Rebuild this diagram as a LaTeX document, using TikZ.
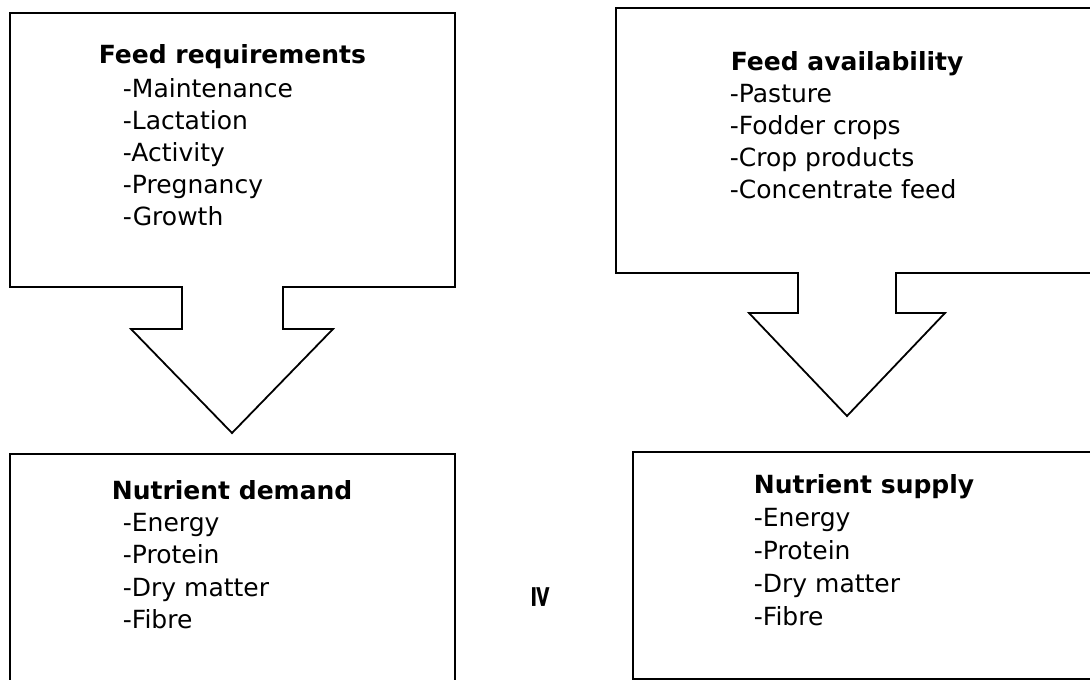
\documentclass[tikz,border=0pt]{standalone}
\usepackage{fontspec}
\setmainfont{DejaVu Sans}

\begin{document}
\begin{tikzpicture}[x=1pt,y=-1pt,line width=1.8pt,
    item/.style={anchor=base west,inner sep=0pt,font=\fontsize{25}{30}\selectfont},
    head/.style={item,font=\fontsize{25}{30}\selectfont\bfseries}]
\clip (0,0) rectangle (1090,680);
% down arrow callouts
\draw (10,13) -- (455,13) -- (455,287) -- (283,287) -- (283,329) -- (333,329)
      -- (232,433) -- (131,329) -- (182,329) -- (182,287) -- (10,287) -- cycle;
\draw (616,8) -- (1100,8) -- (1100,273) -- (896,273) -- (896,313) -- (945,313)
      -- (847,416) -- (749,313) -- (798,313) -- (798,273) -- (616,273) -- cycle;
% result boxes
\draw (10,454) rectangle (455,700);
\draw (633,452) rectangle (1100,679);

\node[head](req)at(98,63){Feed requirements};
\foreach \t [count=\i] in {Maintenance,Lactation,Activity,Pregnancy,Growth}
    \node[item](req\i)at(122,{97+32*(\i-1)}){-\t};

\node[head](avail)at(730,70){Feed availability};
\foreach \t [count=\i] in {Pasture,Fodder crops,Crop products,Concentrate feed}
    \node[item](avail\i)at(729,{102+32.3*(\i-1)}){-\t};

\node[head](demand)at(111,499){Nutrient demand};
\foreach \t [count=\i] in {Energy,Protein,Dry matter,Fibre}
    \node[item](demand\i)at(122,{531+32.5*(\i-1)}){-\t};

\node[head](supply)at(753,493){Nutrient supply};
\foreach \t [count=\i] in {Energy,Protein,Dry matter,Fibre}
    \node[item](supply\i)at(753,{526+33*(\i-1)}){-\t};

\node[head,anchor=center,rotate=-90,font=\fontsize{30}{30}\selectfont\bfseries](leq)at(541,597){≥};
\end{tikzpicture}
\end{document}
